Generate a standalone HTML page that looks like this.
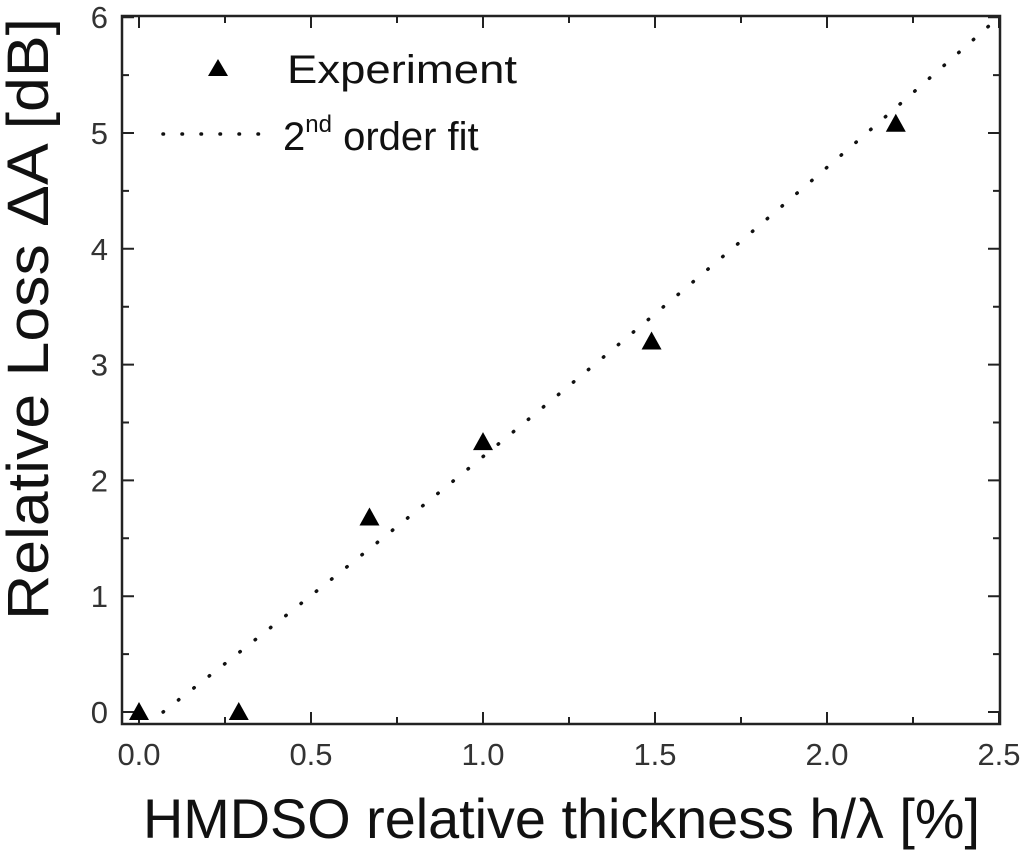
<!DOCTYPE html>
<html><head><meta charset="utf-8"><style>
html,body{margin:0;padding:0;background:#fff;width:1024px;height:850px;overflow:hidden}
svg{display:block;font-family:"Liberation Sans",Arial,sans-serif}
</style></head><body>
<svg id="chart" width="1024" height="850"></svg>
<script>
const xVals=[0,0.29,0.67,1.0,1.49,2.2];
const yVals=[0,0,1.68,2.33,3.2,5.08];
const xTicks=[0,0.5,1.0,1.5,2.0,2.5];
const xTickLabels=["0.0","0.5","1.0","1.5","2.0","2.5"];
const yTicks=[0,1,2,3,4,5,6];
const yTickLabels=["0","1","2","3","4","5","6"];
const fitCoef=[-0.161,2.30,0.066];
const fitRange=[0.07,2.5];

const NS="http://www.w3.org/2000/svg";
const svg=document.getElementById('chart');
const L=122,R=1000,T=16,B=724;
const X=v=>139+v*344;
const Y=v=>712-v*115.8;
function el(tag,attrs,parent){const e=document.createElementNS(NS,tag);for(const k in attrs)e.setAttribute(k,attrs[k]);(parent||svg).appendChild(e);return e;}

const frame=el('rect',{x:L,y:T,width:R-L,height:B-T,fill:'none',stroke:'#222','stroke-width':2.5});



for(let i=0;i<xTicks.length;i++){
  const x=X(xTicks[i]);
  const t=el('path',{d:`M${x},${B}V${B-12}M${x},${T}V${T+12}`,stroke:'#222','stroke-width':2});
  
  
  const lb=el('text',{x:x,y:765,'text-anchor':'middle','font-size':31,fill:'#333'});
  lb.textContent=xTickLabels[i];
  
  
  if(i<xTicks.length-1){const m=X(xTicks[i]+0.25);
    const mt=el('path',{d:`M${m},${B}V${B-7}M${m},${T}V${T+7}`,stroke:'#222','stroke-width':2});
    
    }
}
for(let i=0;i<yTicks.length;i++){
  const y=Y(yTicks[i]);
  const t=el('path',{d:`M${L},${y}H${L+12}M${R},${y}H${R-12}`,stroke:'#222','stroke-width':2});
  
  
  const lb=el('text',{x:L-14,y:y+11,'text-anchor':'end','font-size':31,fill:'#333'});
  lb.textContent=yTickLabels[i];
  
  
  if(i<yTicks.length-1){const m=Y(yTicks[i]+0.5);
    const mt=el('path',{d:`M${L},${m}H${L+7}M${R},${m}H${R-7}`,stroke:'#222','stroke-width':2});
    
    }
}

let d='';
for(let k=0;k<=100;k++){const x=fitRange[0]+(fitRange[1]-fitRange[0])*k/100;
  const y=fitCoef[0]+fitCoef[1]*x+fitCoef[2]*x*x;d+=(k?'L':'M')+X(x).toFixed(1)+','+Y(y).toFixed(1);}
const fit=el('path',{d:d,fill:'none',stroke:'#111','stroke-width':3.5,'stroke-dasharray':'0.5 19','stroke-linecap':'round'});



for(let i=0;i<xVals.length;i++){
  const cx=X(xVals[i]),cy=Y(yVals[i]);
  const p=el('path',{d:`M${cx},${cy-10}L${cx+10},${cy+8}L${cx-10},${cy+8}Z`,fill:'#000'});
  
  
}

const lg=el('g',{});


el('path',{d:'M218,59L228,76L208,76Z',fill:'#000'},lg);
const t1=el('text',{x:287,y:83,'font-size':40,fill:'#111',textLength:230,lengthAdjust:'spacingAndGlyphs'},lg);t1.textContent='Experiment';
el('path',{d:'M163,134H272',stroke:'#111','stroke-width':3.5,'stroke-dasharray':'0.5 18.5','stroke-linecap':'round'},lg);
const t2=el('text',{x:283,y:150,'font-size':40,fill:'#111'},lg);
t2.innerHTML='2<tspan font-size="24" dy="-18">nd</tspan><tspan dy="18"> order fit</tspan>';

const xt=el('text',{x:143,y:838,'font-size':56,fill:'#111',textLength:837,lengthAdjust:'spacingAndGlyphs'});
xt.textContent='HMDSO relative thickness h/λ [%]';


const yt=el('text',{x:0,y:0,'font-size':58,fill:'#111',textLength:602,lengthAdjust:'spacingAndGlyphs',transform:'translate(48,620) rotate(-90)'});
yt.textContent='Relative Loss ΔA [dB]';


</script>
</body></html>
